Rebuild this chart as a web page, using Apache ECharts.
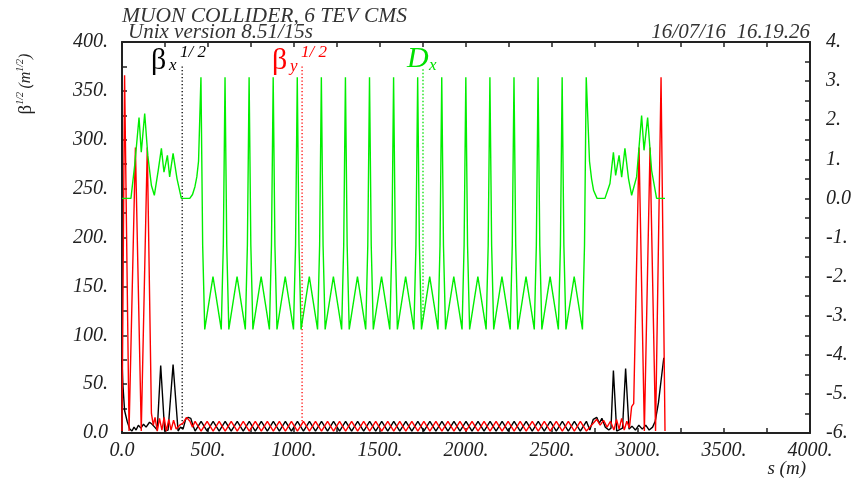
<!DOCTYPE html>
<html><head><meta charset="utf-8">
<script src="https://cdn.jsdelivr.net/npm/echarts@6/dist/echarts.min.js"></script>
<style>html,body{margin:0;padding:0;background:#fff}#c{width:865px;height:478px}</style>
</head><body><div id="c"></div>
<script>
// ---------- DATA ----------
// beta_x^(1/2) (m^(1/2)) — left insertion, arc, right insertion
const bxLeftS  = [0, 5, 15, 30, 45, 58, 70, 82, 95, 110, 125, 140, 160, 175, 190, 205, 225, 248, 268, 297, 326, 340, 355, 370, 385, 400, 412];
const bxLeftV  = [75, 50, 23, 12, 4, 2, 6, 3, 8, 5, 9, 6, 11, 9, 6, 3, 69, 2, 3, 70, 2, 6, 4, 14, 16, 15, 8];
const bxRightS = [2720, 2740, 2760, 2775, 2790, 2810, 2830, 2843, 2857, 2876, 2910, 2928, 2948, 2965, 2985, 3005, 3025, 3045, 3065, 3085, 3100, 3119, 3135, 3150];
const bxRightV = [3, 14, 16, 10, 15, 6, 3, 5, 64, 2, 5, 66, 4, 7, 3, 8, 4, 8, 3, 6, 12, 31, 55, 77];

// beta_y^(1/2)
const byLeftS  = [0, 15, 41, 78, 112, 147, 171, 182, 192, 205, 218, 232, 245, 258, 272, 285, 300, 315, 335, 355, 375, 395, 410];
const byLeftV  = [2, 366, 2, 292, 2, 292, 20, 8, 16, 2, 15, 3, 16, 2, 14, 3, 13, 4, 8, 10, 16, 12, 6];
const byRightS = [2720, 2740, 2760, 2780, 2800, 2820, 2840, 2860, 2875, 2890, 2905, 2920, 2935, 2950, 2963, 2975, 3006, 3037, 3070, 3102, 3134, 3157];
const byRightV = [6, 10, 14, 8, 13, 6, 12, 3, 14, 4, 15, 3, 12, 5, 27, 30, 292, 2, 292, 2, 364, 2];

// arc samples shared by beta_x and beta_y
const arcS  = [425, 460, 495, 530, 565, 600, 635, 670, 705, 740, 775, 810, 845, 880, 915, 950, 985, 1020, 1055, 1090, 1125, 1160, 1195, 1230, 1265, 1300, 1335, 1370, 1405, 1440, 1475, 1510, 1545, 1580, 1615, 1650, 1685, 1720, 1755, 1790, 1825, 1860, 1895, 1930, 1965, 2000, 2035, 2070, 2105, 2140, 2175, 2210, 2245, 2280, 2315, 2350, 2385, 2420, 2455, 2490, 2525, 2560, 2595, 2630, 2665, 2700];
const arcBx = [2, 12, 2, 12, 2, 12, 2, 12, 2, 12, 2, 12, 2, 12, 2, 12, 2, 12, 2, 12, 2, 12, 2, 12, 2, 12, 2, 12, 2, 12, 2, 12, 2, 12, 2, 12, 2, 12, 2, 12, 2, 12, 2, 12, 2, 12, 2, 12, 2, 12, 2, 12, 2, 12, 2, 12, 2, 12, 2, 12, 2, 12, 2, 12, 2, 12];
const arcBy = [12, 2, 12, 2, 12, 2, 12, 2, 12, 2, 12, 2, 12, 2, 12, 2, 12, 2, 12, 2, 12, 2, 12, 2, 12, 2, 12, 2, 12, 2, 12, 2, 12, 2, 12, 2, 12, 2, 12, 2, 12, 2, 12, 2, 12, 2, 12, 2, 12, 2, 12, 2, 12, 2, 12, 2, 12, 2, 12, 2, 12, 2, 12, 2, 12, 2];

// D_x (m) — right axis
const dxLeftS  = [0, 52, 75, 99, 112, 132, 150, 171, 188, 210, 229, 244, 264, 277, 297, 320, 345, 394, 410, 424, 435, 445];
const dxLeftV  = [0, 0, 0.9, 2.07, 1.18, 2.17, 1.1, 0.33, 0.08, 0.7, 1.28, 0.67, 1.1, 0.55, 1.15, 0.5, 0, 0, 0.1, 0.3, 0.55, 0.95];
const dxArcS = [
  459, 469, 481, 529, 577, 589,
  599, 609, 621, 669, 717, 729,
  739, 749, 761, 809, 857, 869,
  879, 889, 901, 949, 997, 1009,
  1019, 1029, 1041, 1089, 1137, 1149,
  1159, 1169, 1181, 1229, 1277, 1289,
  1299, 1309, 1321, 1369, 1417, 1429,
  1439, 1449, 1461, 1509, 1557, 1569,
  1579, 1589, 1601, 1649, 1697, 1709,
  1719, 1729, 1741, 1789, 1837, 1849,
  1859, 1869, 1881, 1929, 1977, 1989,
  1999, 2009, 2021, 2069, 2117, 2129,
  2139, 2149, 2161, 2209, 2257, 2269,
  2279, 2289, 2301, 2349, 2397, 2409,
  2419, 2429, 2441, 2489, 2537, 2549,
  2559, 2569, 2581, 2629, 2677, 2689,
  2699];
const dxArcV = [
  3.1, -1.2, -3.35, -2.0, -3.35, -1.2,
  3.1, -1.2, -3.35, -2.0, -3.35, -1.2,
  3.1, -1.2, -3.35, -2.0, -3.35, -1.2,
  3.1, -1.2, -3.35, -2.0, -3.35, -1.2,
  3.1, -1.2, -3.35, -2.0, -3.35, -1.2,
  3.1, -1.2, -3.35, -2.0, -3.35, -1.2,
  3.1, -1.2, -3.35, -2.0, -3.35, -1.2,
  3.1, -1.2, -3.35, -2.0, -3.35, -1.2,
  3.1, -1.2, -3.35, -2.0, -3.35, -1.2,
  3.1, -1.2, -3.35, -2.0, -3.35, -1.2,
  3.1, -1.2, -3.35, -2.0, -3.35, -1.2,
  3.1, -1.2, -3.35, -2.0, -3.35, -1.2,
  3.1, -1.2, -3.35, -2.0, -3.35, -1.2,
  3.1, -1.2, -3.35, -2.0, -3.35, -1.2,
  3.1, -1.2, -3.35, -2.0, -3.35, -1.2,
  3.1, -1.2, -3.35, -2.0, -3.35, -1.2,
  3.1];
const dxRightS = [2718, 2730, 2742, 2762, 2808, 2837, 2857, 2870, 2890, 2905, 2924, 2945, 2963, 2992, 3021, 3035, 3056, 3079, 3108, 3157];
const dxRightV = [0.95, 0.5, 0.2, 0, 0, 0.38, 1.18, 0.59, 1.1, 0.54, 1.28, 0.5, 0.08, 0.55, 2.12, 1.23, 2.07, 0.72, 0, 0];

// label marker lines: [s, top, bottom]
const markBx = [350, 375, 4];
const markBy = [1047, 375, 9];
const markDx = [1750, 3.3, -3.1];

// axis ticks
const xTicks = {min: 0, max: 4000, interval: 500};
const yLeftTicks = {min: 0, max: 400, interval: 50};
const yRightTicks = {min: -6, max: 4, interval: 1};

// ---------- BUILD ----------
function zip(s, v) { return s.map((x, i) => [x, v[i]]); }
const bxData = zip(bxLeftS.concat(arcS, bxRightS), bxLeftV.concat(arcBx, bxRightV));
const byData = zip(byLeftS.concat(arcS, byRightS), byLeftV.concat(arcBy, byRightV));
const dxData = zip(dxLeftS.concat(dxArcS, dxRightS), dxLeftV.concat(dxArcV, dxRightV));

const F = '"Liberation Serif", "DejaVu Serif", serif';
const INK = '#222';
const fmt = v => (v === 0 ? '0.0' : v + '.');
const lblStyle = {fontFamily: F, fontStyle: 'italic', fontSize: 20, color: INK};
const axLine = {show: true, onZero: false, lineStyle: {color: INK, width: 2}};
const tick = {show: true, inside: true, length: 5, lineStyle: {color: INK, width: 1.5}};
const minor = {show: true, splitNumber: 2, length: 5, lineStyle: {color: INK, width: 1.5}};

function marker(m, color, yIdx) {
  return {type: 'line', yAxisIndex: yIdx, data: [[m[0], m[1]], [m[0], m[2]]], showSymbol: false, silent: true,
    lineStyle: {color: color, width: 1.3, type: [1.3, 2.2]}, z: 1};
}

const chart = echarts.init(document.getElementById('c'));
chart.setOption({
  animation: false,
  backgroundColor: '#fff',
  grid: {left: 122, right: 55, top: 42, bottom: 45, containLabel: false, outerBoundsMode: 'none'},
  xAxis: [
    Object.assign({type: 'value', position: 'bottom', axisLine: axLine, axisTick: tick, minorTick: minor,
      splitLine: {show: false}, minorSplitLine: {show: false},
      axisLabel: Object.assign({formatter: fmt, margin: 8}, lblStyle)}, xTicks),
    Object.assign({type: 'value', position: 'top', axisLine: axLine, axisTick: tick, minorTick: minor,
      splitLine: {show: false}, axisLabel: {show: false}}, xTicks)
  ],
  yAxis: [
    Object.assign({type: 'value', position: 'left', axisLine: axLine, axisTick: tick, minorTick: minor,
      splitLine: {show: false}, minorSplitLine: {show: false},
      axisLabel: Object.assign({formatter: fmt, margin: 14}, lblStyle)}, yLeftTicks),
    Object.assign({type: 'value', position: 'right', axisLine: axLine, axisTick: tick, minorTick: minor,
      splitLine: {show: false}, minorSplitLine: {show: false},
      axisLabel: Object.assign({formatter: fmt, margin: 16}, lblStyle)}, yRightTicks)
  ],
  series: [
    marker(markBx, '#000', 0),
    marker(markBy, '#ff0000', 0),
    marker(markDx, '#00e000', 1),
    {name: 'bx', type: 'line', data: bxData, showSymbol: false, lineStyle: {color: '#000', width: 1.4}, z: 2},
    {name: 'by', type: 'line', data: byData, showSymbol: false, lineStyle: {color: '#ff0000', width: 1.4}, z: 3},
    {name: 'dx', type: 'line', yAxisIndex: 1, data: dxData, showSymbol: false, lineStyle: {color: '#00ee00', width: 1.4}, z: 4}
  ],
  graphic: [
    {type: 'text', x: 122, y: 16, style: {text: 'MUON COLLIDER, 6 TEV CMS', font: 'italic 21.5px ' + F, fill: '#333', textVerticalAlign: 'middle'}},
    {type: 'text', x: 128, y: 32, style: {text: 'Unix version 8.51/15s', font: 'italic 21px ' + F, fill: '#333', textVerticalAlign: 'middle'}},
    {type: 'text', x: 810, y: 32, style: {text: '16/07/16  16.19.26', font: 'italic 21px ' + F, fill: '#333', textAlign: 'right', textVerticalAlign: 'middle'}},
    // beta_x label
    {type: 'text', x: 151, y: 61, style: {text: 'β', font: '30px ' + F, fill: '#000', textVerticalAlign: 'middle'}},
    {type: 'text', x: 169, y: 66, style: {text: 'x', font: 'italic 17px ' + F, fill: '#000', textVerticalAlign: 'middle'}},
    {type: 'text', x: 180, y: 53, style: {text: '1/ 2', font: 'italic 17px ' + F, fill: '#000', textVerticalAlign: 'middle'}},
    // beta_y label
    {type: 'text', x: 272, y: 61, style: {text: 'β', font: '30px ' + F, fill: '#ff0000', textVerticalAlign: 'middle'}},
    {type: 'text', x: 290, y: 67, style: {text: 'y', font: 'italic 17px ' + F, fill: '#ff0000', textVerticalAlign: 'middle'}},
    {type: 'text', x: 301, y: 53, style: {text: '1/ 2', font: 'italic 17px ' + F, fill: '#ff0000', textVerticalAlign: 'middle'}},
    // Dx label
    {type: 'text', x: 407, y: 59, style: {text: 'D', font: 'italic 30px ' + F, fill: '#00e000', textVerticalAlign: 'middle'}},
    {type: 'text', x: 429, y: 66, style: {text: 'x', font: 'italic 17px ' + F, fill: '#00e000', textVerticalAlign: 'middle'}},
    // axis titles
    {type: 'text', x: 806, y: 469, style: {text: 's (m)', font: 'italic 19px ' + F, fill: INK, textAlign: 'right', textVerticalAlign: 'middle'}},
    {type: 'text', x: 26, y: 84, rotation: Math.PI / 2, style: {
      text: '{b|β}{s|1/2} {m|(m}{s|1/2}{m|)}', fill: INK, align: 'center', verticalAlign: 'middle',
      rich: {
        b: {fontFamily: F, fontSize: 19, lineHeight: 22},
        m: {fontFamily: F, fontStyle: 'italic', fontSize: 16, lineHeight: 22},
        s: {fontFamily: F, fontStyle: 'italic', fontSize: 10, lineHeight: 22, verticalAlign: 'top'}
      }}}
  ]
});
</script>
</body></html>
